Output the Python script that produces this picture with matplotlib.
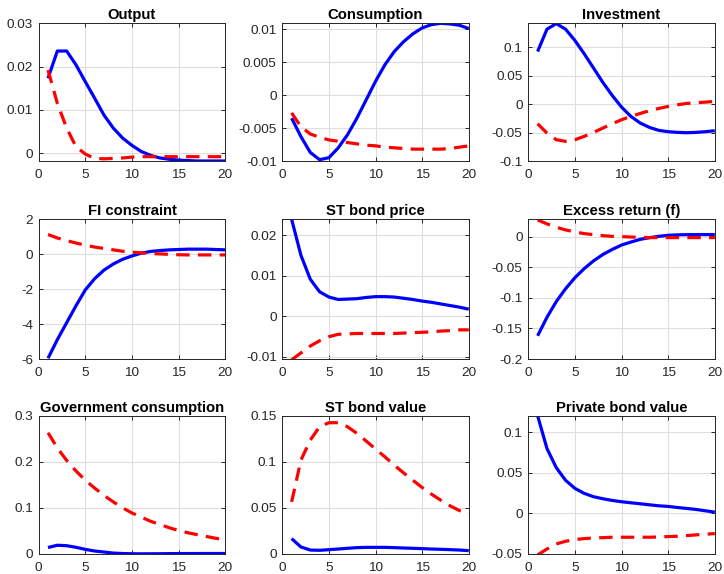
import numpy as np
import matplotlib.pyplot as plt

plt.rcParams['font.family'] = ['Liberation Sans', 'DejaVu Sans']

periods = np.arange(1, 21)

titles = ['Output', 'Consumption', 'Investment',
          'FI constraint', 'ST bond price', 'Excess return (f)',
          'Government consumption', 'ST bond value', 'Private bond value']

output_blue = [0.0173, 0.0236, 0.0236, 0.0204, 0.0165, 0.0127, 0.0088, 0.0058, 0.0035, 0.0018,
               0.0004, -0.0005, -0.0011, -0.0014, -0.0016, -0.0017, -0.0018, -0.0018, -0.0018, -0.0018]
output_red = [0.0192, 0.0115, 0.0058, 0.0015, -0.0002, -0.0012, -0.0013, -0.0012, -0.0011, -0.0009,
              -0.0008, -0.0008, -0.0008, -0.0008, -0.0008, -0.0008, -0.0008, -0.0008, -0.0008, -0.0008]

cons_blue = [-0.0035, -0.0063, -0.0087, -0.0098, -0.0095, -0.0080, -0.0060, -0.0035, -0.0007, 0.0021,
             0.0046, 0.0066, 0.0081, 0.0093, 0.0102, 0.0107, 0.0109, 0.0108, 0.0106, 0.0101]
cons_red = [-0.0027, -0.0048, -0.0059, -0.0064, -0.0068, -0.0070, -0.0072, -0.0074, -0.0076, -0.0077,
            -0.0079, -0.0080, -0.0081, -0.0082, -0.0082, -0.0082, -0.0082, -0.0081, -0.0079, -0.0077]

inv_blue = [0.0924, 0.1316, 0.1415, 0.1316, 0.1117, 0.0883, 0.0632, 0.0380, 0.0152, -0.0053,
            -0.0216, -0.0333, -0.0410, -0.0462, -0.0485, -0.0497, -0.0503, -0.0497, -0.0485, -0.0468]
inv_red = [-0.0345, -0.0509, -0.0626, -0.0655, -0.0626, -0.0567, -0.0497, -0.0421, -0.0345, -0.0275,
           -0.0216, -0.0164, -0.0117, -0.0076, -0.0041, -0.0012, 0.0012, 0.0023, 0.0035, 0.0047]

fi_blue = [-5.96, -4.89, -3.92, -2.95, -2.04, -1.40, -0.91, -0.56, -0.29, -0.10,
           0.06, 0.16, 0.21, 0.25, 0.27, 0.29, 0.29, 0.29, 0.27, 0.25]
fi_red = [1.13, 0.93, 0.78, 0.64, 0.52, 0.41, 0.33, 0.25, 0.17, 0.12,
          0.08, 0.04, 0.02, -0.01, -0.03, -0.04, -0.04, -0.04, -0.04, -0.04]

stp_blue = [0.0240, 0.0151, 0.0092, 0.0061, 0.0048, 0.0042, 0.0043, 0.0044, 0.0047, 0.0049,
            0.0049, 0.0048, 0.0045, 0.0042, 0.0038, 0.0035, 0.0031, 0.0027, 0.0023, 0.0018]
stp_red = [-0.0107, -0.0090, -0.0073, -0.0060, -0.0050, -0.0044, -0.0043, -0.0042, -0.0042, -0.0042,
           -0.0042, -0.0042, -0.0041, -0.0040, -0.0039, -0.0038, -0.0036, -0.0035, -0.0033, -0.0033]

exr_blue = [-0.1620, -0.1317, -0.1058, -0.0848, -0.0667, -0.0518, -0.0391, -0.0287, -0.0204, -0.0132,
            -0.0083, -0.0039, -0.0011, 0.0011, 0.0028, 0.0035, 0.0038, 0.0039, 0.0039, 0.0038]
exr_red = [0.0280, 0.0215, 0.0160, 0.0116, 0.0083, 0.0055, 0.0039, 0.0022, 0.0011, 0.0006,
           0.0000, -0.0005, -0.0010, -0.0010, -0.0010, -0.0010, -0.0010, -0.0010, -0.0010, -0.0010]

gov_blue = [0.0140, 0.0190, 0.0180, 0.0145, 0.0100, 0.0065, 0.0043, 0.0020, 0.0010, 0.0005,
            0.0004, 0.0005, 0.0006, 0.0008, 0.0009, 0.0010, 0.0010, 0.0011, 0.0011, 0.0011]
gov_red = [0.263, 0.230, 0.203, 0.180, 0.160, 0.143, 0.127, 0.113, 0.100, 0.089,
           0.080, 0.071, 0.064, 0.057, 0.051, 0.046, 0.042, 0.038, 0.034, 0.031]

stv_blue = [0.0167, 0.0076, 0.0043, 0.0040, 0.0047, 0.0054, 0.0062, 0.0069, 0.0072, 0.0072,
            0.0072, 0.0069, 0.0065, 0.0062, 0.0058, 0.0054, 0.0051, 0.0047, 0.0043, 0.0036]
stv_red = [0.0565, 0.1018, 0.1236, 0.1380, 0.1424, 0.1424, 0.1380, 0.1308, 0.1225, 0.1138,
           0.1054, 0.0964, 0.0880, 0.0800, 0.0721, 0.0649, 0.0583, 0.0522, 0.0471, 0.0440]

pbv_blue = [0.1207, 0.0802, 0.0566, 0.0409, 0.0310, 0.0248, 0.0207, 0.0182, 0.0161, 0.0145,
            0.0132, 0.0120, 0.0107, 0.0095, 0.0087, 0.0074, 0.0062, 0.0050, 0.0033, 0.0017]
pbv_red = [-0.0512, -0.0438, -0.0376, -0.0343, -0.0322, -0.0310, -0.0302, -0.0298, -0.0293, -0.0293,
           -0.0293, -0.0293, -0.0293, -0.0290, -0.0285, -0.0281, -0.0273, -0.0264, -0.0256, -0.0248]

blue_series = [output_blue, cons_blue, inv_blue, fi_blue, stp_blue, exr_blue, gov_blue, stv_blue, pbv_blue]
red_series = [output_red, cons_red, inv_red, fi_red, stp_red, exr_red, gov_red, stv_red, pbv_red]

ylims = [(-0.0018, 0.03), (-0.01, 0.0109), (-0.1, 0.142),
         (-6, 2), (-0.0105, 0.024), (-0.2, 0.029),
         (0, 0.3), (0, 0.15), (-0.05, 0.1207)]
yticks = [[0, 0.01, 0.02, 0.03], [-0.01, -0.005, 0, 0.005, 0.01], [-0.1, -0.05, 0, 0.05, 0.1],
          [-6, -4, -2, 0, 2], [-0.01, 0, 0.01, 0.02], [-0.2, -0.15, -0.1, -0.05, 0],
          [0, 0.1, 0.2, 0.3], [0, 0.05, 0.1, 0.15], [-0.05, 0, 0.05, 0.1]]

W, H = 724, 574
col_left = [38.7, 282.3, 528.3]
row_top = [23.3, 219.3, 415.7]
row_bot = [161.0, 359.0, 554.0]
ax_w = 186.5

fig = plt.figure(figsize=(W / 100, H / 100), dpi=100)
fg = '#262626'

for i in range(9):
    r, c = divmod(i, 3)
    ax = fig.add_axes([col_left[c] / W, 1 - row_bot[r] / H, ax_w / W, (row_bot[r] - row_top[r]) / H])
    ax.plot(periods, blue_series[i], color='#0000ff', lw=2.3, solid_capstyle='butt')
    ax.plot(periods, red_series[i], color='#ff0000', lw=2.3, ls=(0, (4.2, 2.6)))
    ax.set_xlim(0, 20)
    ax.set_ylim(*ylims[i])
    ax.set_xticks([0, 5, 10, 15, 20])
    ax.set_yticks(yticks[i])
    ax.set_yticklabels(['%g' % v for v in yticks[i]])
    ax.grid(True, color='#dedede', lw=0.8)
    ax.set_axisbelow(True)
    ax.tick_params(direction='in', length=3, width=0.7, colors=fg, labelsize=9.7,
                   top=True, right=True, pad=4)
    ax.tick_params(axis='x', pad=6)
    for s in ax.spines.values():
        s.set_color(fg)
        s.set_linewidth(0.7)
    ax.set_title(titles[i], fontsize=10.7, fontweight='bold', color='black', pad=3)

fig.savefig('out.png', dpi=100)
